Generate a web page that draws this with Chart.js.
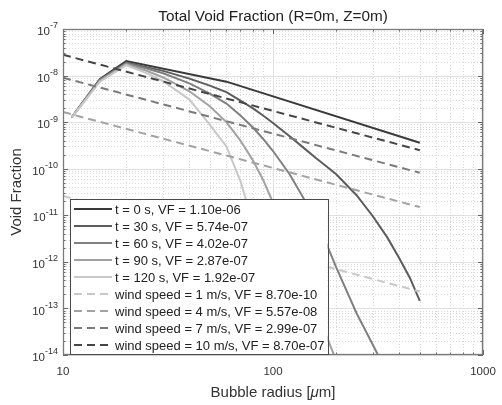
<!DOCTYPE html>
<html>
<head>
<meta charset="utf-8">
<script src="https://cdn.jsdelivr.net/npm/chart.js@4/dist/chart.umd.min.js"></script>
<style>
  html, body { margin: 0; padding: 0; background: #fff; }
  #wrap { width: 502px; height: 405px; }
</style>
</head>
<body>
<div id="wrap"><canvas id="chart" width="502" height="405"></canvas></div>
<script>
// Bubble radius samples (µm)
const radiusT0 = [11, 15, 20, 60, 500];
const radiusT = [11, 15, 20, 25, 30, 40, 50, 60, 70, 80, 90, 100, 120, 140, 160, 180, 200, 250, 300, 350, 400, 450, 500];
const radiusWind = [10, 500];

// Void fraction per radius, time series (curves run past the bottom of the axis)
const voidT0 = [1.27e-9, 8.4e-9, 2.05e-8, 7.4e-9, 3.6e-10];
const voidT30 = [1.27e-9, 8.2e-9, 1.91e-8, 1.52e-8, 1.26e-8, 8.6e-9, 6.1e-9, 4.4e-9, 2.9e-9, 2.0e-9, 1.37e-9, 9.6e-10, 5.0e-10, 2.8e-10, 1.7e-10, 1.12e-10, 7.6e-11, 2.7e-11, 9.3e-12, 3.35e-12, 1.18e-12, 4.4e-13, 1.46e-13];
const voidT60 = [1.27e-9, 8.0e-9, 1.83e-8, 1.42e-8, 1.12e-8, 6.8e-9, 4.1e-9, 2.5e-9, 1.39e-9, 7.8e-10, 4.3e-10, 2.4e-10, 7.6e-11, 2.3e-11, 7.8e-12, 2.4e-12, 7.6e-13, 7.9e-14, 1.6e-14, 4.0e-15];
const voidT90 = [1.27e-9, 7.7e-9, 1.75e-8, 1.27e-8, 9.1e-9, 4.6e-9, 2.2e-9, 1.0e-9, 4.0e-10, 1.55e-10, 5.6e-11, 1.86e-11, 2.4e-12, 4.1e-13, 9.1e-14, 2.5e-14, 7.6e-15];
const voidT120 = [1.27e-9, 7.4e-9, 1.67e-8, 1.13e-8, 7.6e-9, 3.05e-9, 8.8e-10, 3.0e-10, 5.4e-11, 7.2e-12, 1.3e-12, 2.7e-13, 1.8e-14, 1.8e-15];

// Void fraction per radius, wind speed series
const voidWind1 = [2.6e-11, 2.3e-13];
const voidWind4 = [1.65e-9, 1.5e-11];
const voidWind7 = [9.0e-9, 8.2e-11];
const voidWind10 = [2.8e-8, 2.5e-10];

const seriesLabels = [
  't = 0 s, VF = 1.10e-06',
  't = 30 s, VF = 5.74e-07',
  't = 60 s, VF = 4.02e-07',
  't = 90 s, VF = 2.87e-07',
  't = 120 s, VF = 1.92e-07',
  'wind speed = 1 m/s, VF = 8.70e-10',
  'wind speed = 4 m/s, VF = 5.57e-08',
  'wind speed = 7 m/s, VF = 2.99e-07',
  'wind speed = 10 m/s, VF = 8.70e-07'
];
const seriesColors = ['#3a3a3a', '#5c5c5c', '#808080', '#a2a2a2', '#c8c8c8', '#c8c8c8', '#a2a2a2', '#7a7a7a', '#464646'];

const xTickValues = [10, 100, 1000];
const xTickLabels = ['10', '100', '1000'];
const yTickExponents = [-7, -8, -9, -10, -11, -12, -13, -14];

const titleText = 'Total Void Fraction (R=0m, Z=0m)';
const yTitleText = 'Void Fraction';

const FONT = '"Liberation Sans", Arial, Helvetica, sans-serif';

function points(rs, vs) {
  return vs.map((v, i) => ({ x: rs[i], y: v }));
}

const seriesData = [
  points(radiusT0, voidT0),
  points(radiusT, voidT30),
  points(radiusT, voidT60),
  points(radiusT, voidT90),
  points(radiusT, voidT120),
  points(radiusWind, voidWind1),
  points(radiusWind, voidWind4),
  points(radiusWind, voidWind7),
  points(radiusWind, voidWind10)
];

const datasets = seriesData.map((d, i) => ({
  label: seriesLabels[i],
  data: d,
  borderColor: seriesColors[i],
  backgroundColor: seriesColors[i],
  borderWidth: 2,
  borderDash: i >= 5 ? [8, 5] : [],
  pointRadius: 0,
  tension: 0,
  fill: false,
  clip: 0,
  order: 100 - i
}));

function decadeValues(lo, hi) {
  const out = [];
  for (let e = lo; e <= hi; e++) {
    for (let k = 1; k <= 9; k++) {
      if (e === hi && k > 1) break;
      out.push({ v: k * Math.pow(10, e), major: k === 1 });
    }
  }
  return out;
}

// grid, ticks, box and labels in the MATLAB style
const axesPlugin = {
  id: 'axesDecor',
  beforeDatasetsDraw(chart) {
    const { ctx, chartArea: a, scales: { x, y } } = chart;
    ctx.save();
    ctx.lineWidth = 1;
    decadeValues(-14, -7).forEach(t => {
      const py = Math.round(y.getPixelForValue(t.v)) + 0.5;
      if (t.major) { ctx.setLineDash([]); ctx.strokeStyle = '#e0e0e0'; }
      else { ctx.setLineDash([1, 2]); ctx.strokeStyle = '#d9d9d9'; }
      ctx.beginPath(); ctx.moveTo(a.left, py); ctx.lineTo(a.right, py); ctx.stroke();
    });
    decadeValues(1, 3).forEach(t => {
      const px = Math.round(x.getPixelForValue(t.v)) + 0.5;
      if (t.major) { ctx.setLineDash([]); ctx.strokeStyle = '#e0e0e0'; }
      else { ctx.setLineDash([1, 2]); ctx.strokeStyle = '#d9d9d9'; }
      ctx.beginPath(); ctx.moveTo(px, a.top); ctx.lineTo(px, a.bottom); ctx.stroke();
    });
    ctx.restore();
  },
  afterDatasetsDraw(chart) {
    const { ctx, chartArea: a, scales: { x, y } } = chart;
    ctx.save();
    ctx.setLineDash([]);
    // inward tick marks on all four sides
    ctx.strokeStyle = '#666';
    ctx.lineWidth = 1;
    decadeValues(-14, -7).forEach(t => {
      const py = Math.round(y.getPixelForValue(t.v)) + 0.5;
      const len = t.major ? 5 : 2.5;
      ctx.beginPath();
      ctx.moveTo(a.left, py); ctx.lineTo(a.left + len, py);
      ctx.moveTo(a.right, py); ctx.lineTo(a.right - len, py);
      ctx.stroke();
    });
    decadeValues(1, 3).forEach(t => {
      const px = Math.round(x.getPixelForValue(t.v)) + 0.5;
      const len = t.major ? 5 : 2.5;
      ctx.beginPath();
      ctx.moveTo(px, a.bottom); ctx.lineTo(px, a.bottom - len);
      ctx.moveTo(px, a.top); ctx.lineTo(px, a.top + len);
      ctx.stroke();
    });
    ctx.strokeStyle = '#7a7a7a';
    ctx.lineWidth = 1.3;
    ctx.strokeRect(a.left + 0.5, a.top + 0.5, a.right - a.left - 1, a.bottom - a.top - 1);

    // legend box
    const sets = chart.data.datasets;
    const rowH = 17;
    ctx.font = '13px ' + FONT;
    let maxW = 0;
    sets.forEach(d => { maxW = Math.max(maxW, ctx.measureText(d.label).width); });
    const left = a.left + 7;
    const bottom = a.bottom - 1;
    const height = sets.length * rowH + 2;
    const top = bottom - height;
    const sampleLen = 38;
    const textX = left + 4 + sampleLen + 3;
    const width = textX - left + maxW + 3;
    ctx.fillStyle = '#fff';
    ctx.fillRect(left, top, width, height);
    ctx.strokeStyle = '#4a4a4a';
    ctx.lineWidth = 1;
    ctx.strokeRect(Math.round(left) + 0.5, Math.round(top) + 0.5, Math.round(width), Math.round(height));
    sets.forEach((d, i) => {
      const cy = top + 10 + i * rowH;
      ctx.strokeStyle = d.borderColor;
      ctx.lineWidth = d.borderWidth;
      ctx.setLineDash(d.borderDash || []);
      ctx.beginPath();
      ctx.moveTo(left + 4, cy); ctx.lineTo(left + 4 + sampleLen, cy);
      ctx.stroke();
      ctx.setLineDash([]);
      ctx.fillStyle = '#222';
      ctx.textAlign = 'left';
      ctx.textBaseline = 'middle';
      ctx.fillText(d.label, textX, cy + 1);
    });
    ctx.restore();
  },
  afterDraw(chart) {
    const { ctx, chartArea: a, scales: { x, y } } = chart;
    ctx.save();
    ctx.fillStyle = '#333';
    // x tick labels
    ctx.font = '11.5px ' + FONT;
    ctx.textAlign = 'center';
    ctx.textBaseline = 'middle';
    xTickValues.forEach((v, i) => {
      ctx.fillText(xTickLabels[i], x.getPixelForValue(v), a.bottom + 17);
    });
    // y tick labels: 10 with a raised exponent
    yTickExponents.forEach(e => {
      const py = y.getPixelForValue(Math.pow(10, e));
      const right = a.left - 5;
      ctx.font = '9px ' + FONT;
      const sup = String(e);
      const sw = ctx.measureText(sup).width;
      ctx.textAlign = 'left';
      ctx.textBaseline = 'middle';
      ctx.fillText(sup, right - sw, py - 3);
      ctx.font = '11.5px ' + FONT;
      ctx.textAlign = 'right';
      ctx.fillText('10', right - sw, py + 3);
    });
    // axis titles
    ctx.font = '15px ' + FONT;
    ctx.textBaseline = 'middle';
    const p1 = 'Bubble radius [', p2 = '\u03bc', p3 = 'm]';
    const w1 = ctx.measureText(p1).width;
    ctx.font = 'italic 15px ' + FONT;
    const w2 = ctx.measureText(p2).width;
    ctx.font = '15px ' + FONT;
    const w3 = ctx.measureText(p3).width;
    const sx = (a.left + a.right) / 2 - (w1 + w2 + w3) / 2;
    const ty = 393;
    ctx.textAlign = 'left';
    ctx.fillText(p1, sx, ty);
    ctx.font = 'italic 15px ' + FONT;
    ctx.fillText(p2, sx + w1, ty);
    ctx.font = '15px ' + FONT;
    ctx.fillText(p3, sx + w1 + w2, ty);

    ctx.save();
    ctx.translate(17, (a.top + a.bottom) / 2);
    ctx.rotate(-Math.PI / 2);
    ctx.textAlign = 'center';
    ctx.fillText(yTitleText, 0, 0);
    ctx.restore();

    // title
    ctx.font = '15.3px ' + FONT;
    ctx.textAlign = 'center';
    ctx.fillStyle = '#222';
    ctx.fillText(titleText, (a.left + a.right) / 2, 17);
    ctx.restore();
  }
};

new Chart(document.getElementById('chart'), {
  type: 'line',
  data: { datasets },
  options: {
    responsive: false,
    animation: false,
    devicePixelRatio: 1,
    layout: { padding: { top: 29, right: 19, left: 0, bottom: 0 } },
    plugins: {
      legend: { display: false },
      title: { display: false },
      tooltip: { enabled: false }
    },
    scales: {
      x: {
        type: 'logarithmic',
        min: 10, max: 1000,
        grid: { display: false },
        border: { display: false },
        ticks: { display: false },
        afterFit(s) { s.height = 50; }
      },
      y: {
        type: 'logarithmic',
        min: 1e-14, max: 1e-7,
        grid: { display: false },
        border: { display: false },
        ticks: { display: false },
        afterFit(s) { s.width = 63; }
      }
    }
  },
  plugins: [axesPlugin]
});
</script>
</body>
</html>
